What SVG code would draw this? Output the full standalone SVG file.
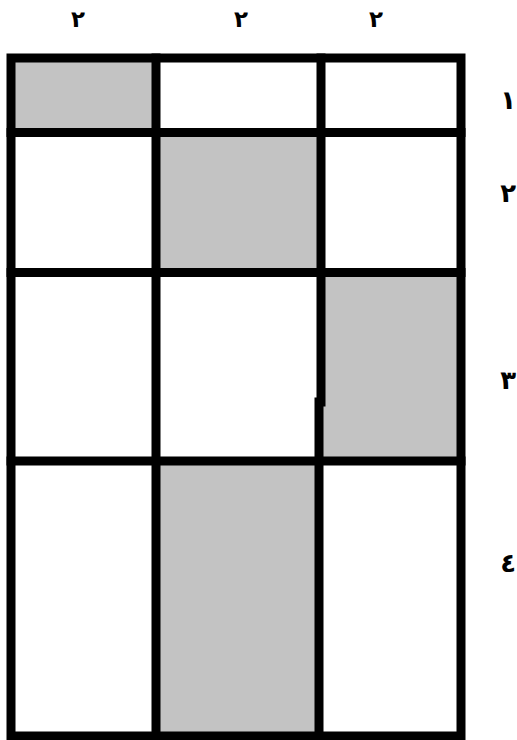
<svg xmlns="http://www.w3.org/2000/svg" width="517" height="740" viewBox="0 0 517 740">
<style>
.shade{fill:#c3c3c3;stroke:none}
.ln{stroke:#000;stroke-width:9;fill:none;stroke-linecap:square}
.top{font-family:"DejaVu Sans",sans-serif;font-weight:bold;font-size:23px;fill:#000;text-anchor:middle}
.side{font-family:"DejaVu Sans",sans-serif;font-weight:bold;font-size:26px;fill:#000;text-anchor:end}
</style>
<rect x="0" y="0" width="517" height="740" fill="#fff"/>
<g id="cells">
<rect id="cell-r1c1" class="shade" x="11" y="58" width="145" height="75"/>
<rect id="cell-r2c2" class="shade" x="156" y="132" width="165" height="141"/>
<rect id="cell-r3c3" class="shade" x="320" y="272" width="141" height="189"/>
<rect id="cell-r4c2" class="shade" x="156" y="461" width="163" height="275"/>
</g>
<g id="grid-lines">
<rect class="ln" x="11" y="58" width="450" height="678"/>
<line class="ln" x1="156" y1="58" x2="156" y2="736"/>
<polyline class="ln" points="321,58 321,402 319,402 319,736" stroke-linecap="butt"/>
<line class="ln" x1="11" y1="132.5" x2="461" y2="132.5"/>
<line class="ln" x1="11" y1="272.5" x2="461" y2="272.5"/>
<line class="ln" x1="11" y1="461" x2="461" y2="461"/>
</g>
<g id="labels-top">
<text class="top" x="78" y="27">٢</text>
<text class="top" x="241" y="27">٢</text>
<text class="top" x="376" y="27">٢</text>
</g>
<g id="labels-side">
<text class="side" x="516" y="109">١</text>
<text class="side" x="516" y="202">٢</text>
<text class="side" x="516" y="389">٣</text>
<text class="side" x="516" y="572">٤</text>
</g>
</svg>
